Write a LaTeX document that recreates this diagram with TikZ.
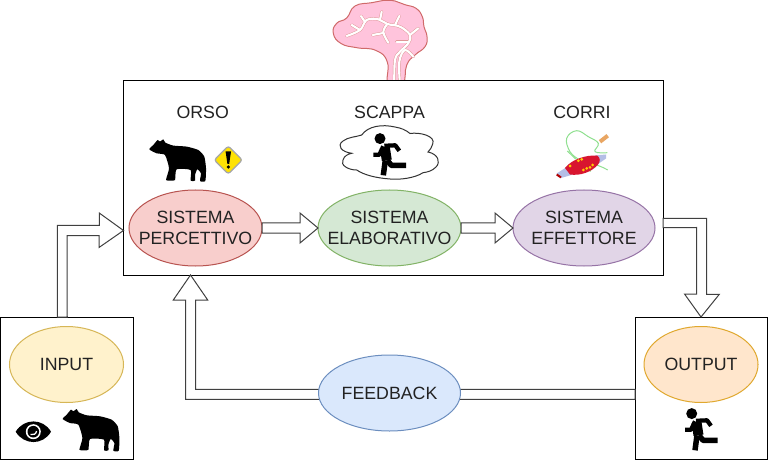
\documentclass[tikz,border=0pt]{standalone}
\usepackage{fontspec}
\setmainfont{Liberation Sans}
\usetikzlibrary{shapes.geometric,calc}
\definecolor{sysink}{HTML}{222222}
\definecolor{redfill}{HTML}{F8CECC}
\definecolor{redline}{HTML}{B85450}
\definecolor{greenfill}{HTML}{D5E8D4}
\definecolor{greenline}{HTML}{82B366}
\definecolor{violetfill}{HTML}{E1D5E7}
\definecolor{violetline}{HTML}{9673A6}
\definecolor{yellowfill}{HTML}{FFF2CC}
\definecolor{yellowline}{HTML}{D6B656}
\definecolor{orangefill}{HTML}{FFE6CC}
\definecolor{orangeline}{HTML}{E0A82E}
\definecolor{bluefill}{HTML}{DAE8FC}
\definecolor{blueline}{HTML}{6C8EBF}
\definecolor{brainfill}{HTML}{FFC4DC}
\definecolor{brainline}{HTML}{D06A6A}
\definecolor{nervegreen}{HTML}{8FE08F}
\definecolor{tendonblue}{HTML}{B4BEE6}
\definecolor{musclered}{HTML}{D8152F}
\tikzset{
    boxnode/.style={draw,fill=white,line width=0.2mm,inner sep=0pt,outer sep=0pt},
    sysnode/.style={ellipse,draw,line width=0.2mm,inner sep=-3.5mm,outer sep=0pt,align=center,text=sysink,
        font=\fontsize{10.1}{12.1}\selectfont,minimum width=26.6mm,minimum height=15.2mm},
    sidenode/.style={sysnode,minimum width=22.8mm},
    wordnode/.style={inner sep=0pt,text=sysink,font=\fontsize{10.1}{12.1}\selectfont},
    blockarrow/.style={draw=black!75,fill=white,line width=0.2mm,line join=miter},
    sulcus/.style={line width=0.42mm,draw=white,line cap=round},
    sulcusedge/.style={line width=0.6mm,draw=brainline!70,line cap=round},
    nerve/.style={line width=0.2mm,draw=nervegreen},
    bearpic/.pic={
        \fill[black] plot[smooth cycle,tension=0.35] coordinates {(0,10) (4,5.7) (8.3,0.7) (10.7,2.3) (14,0) (16,3.3)
            (24,6.3) (37.3,7.3) (49,10.7) (55,17.3) (56.7,29) (56,41.7) (50.7,41.7) (51.7,34) (48,30) (45.7,35.7)
            (45.7,41.3) (41.3,41.3) (41.3,30.7) (27.3,30) (25.7,40.7) (21.3,41.3) (16.7,40.7) (19.7,29) (15.7,15.7) (7.3,14)};
    },
    runnerpic/.pic={
        \fill[black] (6.7,5.3) circle (5.5);
        \draw[black,line width=2mm] (11.5,14) -- (13.5,27);
        \draw[black,line width=0.85mm,line join=round] (11,12.5) -- (22,12) -- (26,17.5);
        \draw[black,line width=0.85mm,line join=round] (10,13) -- (6,21.5) -- (0,21.5);
        \draw[black,line width=1.1mm,line join=round] (14,27) -- (18,32) -- (32.7,32);
        \draw[black,line width=1.1mm,line join=round] (12,27) -- (10,42);
    }
}
\begin{document}
\begin{tikzpicture}[x=0.2mm,y=-0.2mm]
    \useasboundingbox (0,0) rectangle (768,460);

    % brain on top of the main box
    \fill[brainfill,draw=brainline,line width=0.2mm] plot[smooth cycle,tension=0.8] coordinates {
        (388.3,84) (387.3,62) (376,50.5) (356.7,47.7) (341,43.5) (333.3,33.3) (336.7,23.3) (346.7,18) (355,6) (371.7,2.7)
        (383,0.5) (395,1) (405,4.7) (416,8.3) (422.3,16.7) (424,26.7) (427,36.7) (425,46.7) (415,55) (406.7,65) (402.7,84)};
    \foreach \linestyle in {sulcusedge,sulcus}{
        \draw[\linestyle] plot[smooth,tension=0.6] coordinates {(394.3,84) (395,60) (400,51.7) (408.3,43.3) (410,35) (400,26.7)
            (387.3,24) (378.3,19.3) (366.7,20) (360,30) (346.7,36)};
        \draw[\linestyle] plot[smooth,tension=0.6] coordinates {(400,84) (399.3,61.7) (405,50) (413.3,56.7)};
        \draw[\linestyle] (380,20) -- (381.7,11.7);
        \draw[\linestyle] (395,25) -- (399.3,16);
        \draw[\linestyle] plot[smooth,tension=0.6] coordinates {(387.3,24) (383.3,32) (388.3,42.7)};
        \draw[\linestyle] (383.3,33) -- (372.7,35);
        \draw[\linestyle] (410,35) -- (418.3,28.3);
        \draw[\linestyle] (408.3,41.7) -- (396.7,41.7);
        \draw[\linestyle] (360,30) -- (351.7,25);
        \draw[\linestyle] (365,22) -- (361,16);
    }

    \node[boxnode,minimum width=107.9mm,minimum height=38.8mm] (mainbox) at (393.25,178) {};
    \node[boxnode,minimum width=26.5mm,minimum height=28.4mm] (inputbox) at (66.75,388) {};
    \node[boxnode,minimum width=26.4mm,minimum height=28.4mm] (outputbox) at (701,388) {};

    \node[sysnode,fill=redfill,draw=redline] (percettivo) at (195.5,228) {SISTEMA\\PERCETTIVO};
    \node[sysnode,minimum width=28.6mm,fill=greenfill,draw=greenline] (elaborativo) at (389.5,228) {SISTEMA\\ELABORATIVO};
    \node[sysnode,minimum width=28.4mm,fill=violetfill,draw=violetline] (effettore) at (584,228) {SISTEMA\\EFFETTORE};
    \node[sidenode,fill=yellowfill,draw=yellowline] (input) at (66.5,364.5) {INPUT};
    \node[sidenode,fill=orangefill,draw=orangeline] (output) at (701,364.5) {OUTPUT};

    \coordinate (inputtip) at (123.5,230.5);
    \coordinate (feedbacktip) at (190.5,275);

    \draw[blockarrow] ($(inputbox.north)+(-9.5,0)$) -- ++(0,-91.5) -- ++(42,0) -- ++(0,-12.5) -- (inputtip)
        -- ($(inputtip)+(-24.5,17)$) -- ++(0,-12) -- ++(-32,0) -- ($(inputbox.north)+(0.5,0)$) -- cycle;
    \draw[blockarrow] ($(percettivo.east)+(0,-5)$) -- ++(38,0) -- ++(0,-10) -- (elaborativo.west)
        -- ($(elaborativo.west)+(-18,15)$) -- ++(0,-10) -- ($(percettivo.east)+(0,5)$) -- cycle;
    \draw[blockarrow] ($(elaborativo.east)+(0,-5)$) -- ++(34,0) -- ++(0,-10) -- (effettore.west)
        -- ($(effettore.west)+(-18,15)$) -- ++(0,-10) -- ($(elaborativo.east)+(0,5)$) -- cycle;
    \draw[blockarrow] ($(mainbox.east |- effettore.east)+(0,-9.7)$) -- ++(43.7,0) -- ++(0,76) -- ++(12.6,0) -- (outputbox.north)
        -- ++(-16.5,-23) -- ++(12,0) -- ++(0,-66.5) -- ($(mainbox.east |- effettore.east)+(0,-0.3)$) -- cycle;
    \draw[blockarrow] ($(outputbox.west)+(0,1.3)$) -| ($(feedbacktip)+(5,25)$) -- ++(12.2,0) -- (feedbacktip)
        -- ++(-17.2,25) -- ++(12.2,0) |- ($(outputbox.west)+(0,11.3)$) -- cycle;

    \node[sysnode,minimum width=28.4mm,fill=bluefill,draw=blueline] (feedback) at (389.5,393) {FEEDBACK};

    \node[wordnode] (orso) at (202.7,112.7) {ORSO};
    \node[wordnode] (scappa) at (389.5,112.7) {SCAPPA};
    \node[wordnode] (corri) at (582,112.7) {CORRI};

    \pic at (149.3,139.3) {bearpic};
    \pic at (62.7,409) {bearpic};

    % warning sign
    \draw[fill=yellow!85!orange,draw=black!35,line width=0.25mm,rounded corners=0.5mm]
        (228.3,146) -- (242.3,160) -- (228.3,174) -- (214.3,160) -- cycle;
    \fill[black] (225.6,151.5) -- (231,151.5) -- (229.2,164) -- (227.4,164) -- cycle;
    \fill[black] (228.3,167) circle (1.8);

    % cloud with runner
    \draw[fill=white,draw=black!80,line width=0.2mm] (351.7,153.3)
        .. controls (342,152) and (336,146) .. (343,141)
        .. controls (348,137) and (356,137) .. (361.7,135)
        .. controls (368,126) and (382,124) .. (395,127)
        .. controls (401,128) and (406,130) .. (410,133.5)
        .. controls (420,132) and (436,136) .. (432.7,144)
        .. controls (432,147) and (430,150) .. (428,152)
        .. controls (438,154) and (441,162) .. (436,167)
        .. controls (432,171) and (428,172) .. (423,172.7)
        .. controls (415,178) and (400,180) .. (390,179)
        .. controls (376,178) and (364,175) .. (356.7,170)
        .. controls (348,170) and (340,165) .. (343,160)
        .. controls (344,156) and (348,154) .. (351.7,153.3) -- cycle;
    \pic at (373.3,133.3) {runnerpic};
    \pic at (685,408.3) {runnerpic};

    % muscle with nerves
    \draw[nerve] plot[smooth,tension=0.7] coordinates {(607.3,152.7) (595,151.7) (598.3,143.3) (588.3,136.7) (576.7,130.7)
        (566.7,138.3) (570,151.7) (578.3,159)};
    \draw[nerve] (567.3,151) -- (575.7,159);
    \draw[nerve] plot[smooth,tension=0.7] coordinates {(590,171.7) (595,165) (607.7,170)};
    \draw[line width=0.8mm,draw=orange!50!brown!70] (600,141.7) -- (607.7,135.7);
    \fill[tendonblue] (568.3,166) -- (556.7,173.5) -- (561,178) -- (573,174.5) -- cycle;
    \fill[tendonblue] (595,155.5) -- (606,154.5) -- (606,158.5) -- (598,164) -- cycle;
    \draw[line width=0.4mm,draw=red!70!black] (556.7,174.5) -- (561,177.5);
    \fill[musclered] (565,168) .. controls (572,159) and (586,155) .. (597,155.5)
        .. controls (601,158) and (600,162) .. (598,164.5)
        .. controls (592,172) and (580,176) .. (570,174.5) -- cycle;
    \foreach \dotx/\doty in {570/166,578.3/160.7,581.7/159.3,583.3/170,586.7/168.3,592.7/165,590/167.3}{
        \fill[orange!40!yellow] (\dotx,\doty) circle (1.5);
    }

    % eye
    \fill[black] (15.7,431.7) .. controls (24,418) and (43,418) .. (51,431.7)
        .. controls (43,445.5) and (24,445.5) .. cycle;
    \fill[white] (33.3,431.7) circle (7.5);
    \fill[black] (33.3,431.7) circle (5.8);
    \draw[white,line width=0.25mm] (36.5,431) .. controls (36.5,434) and (33,435.5) .. (30.5,434.5);
\end{tikzpicture}
\end{document}
